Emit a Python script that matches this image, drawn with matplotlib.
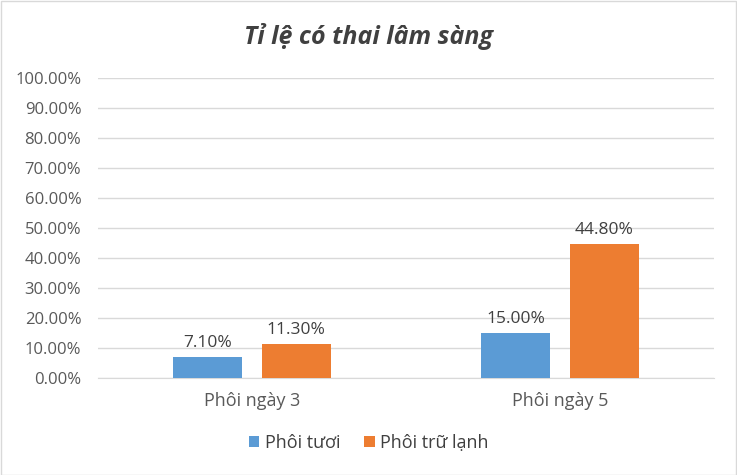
import matplotlib
matplotlib.use("Agg")
import matplotlib.pyplot as plt
import numpy as np

categories = ["Phôi ngày 3", "Phôi ngày 5"]
fresh = [7.10, 15.00]
frozen = [11.30, 44.80]
series_names = ["Phôi tươi", "Phôi trữ lạnh"]
yticks = np.arange(0, 101, 10)

plt.rcParams['font.family'] = ['Open Sans', 'DejaVu Sans']

fig = plt.figure(figsize=(7.37, 4.75), dpi=100)
ax = fig.add_axes([98 / 737, 1 - 378 / 475, 616 / 737, 300 / 475])

x = np.arange(len(categories))
w = 0.224
off = 0.143
b1 = ax.bar(x - off, fresh, w, color="#5B9BD5", label=series_names[0], zorder=3)
b2 = ax.bar(x + off, frozen, w, color="#ED7D31", label=series_names[1], zorder=3)

# value labels above bars
for bars, vals in ((b1, fresh), (b2, frozen)):
    for b, v in zip(bars, vals):
        ax.text(b.get_x() + b.get_width() / 2, v + 2.0, f"{v:.2f}%",
                ha="center", va="bottom", fontsize=12.5, color="#404040")

ax.set_xlim(-0.5, 1.5)
ax.set_ylim(0, 100)
ax.set_yticks(yticks)
ax.set_yticklabels([f"{t:.2f}%" for t in yticks])
ax.set_xticks(x)
ax.set_xticklabels(categories)
ax.tick_params(axis="both", length=0, colors="#595959")
ax.tick_params(axis="y", labelsize=12, pad=12)
ax.tick_params(axis="x", labelsize=13, pad=10)
ax.grid(axis="y", color="#D9D9D9", linewidth=1, zorder=0)
for s in ("top", "right", "left"):
    ax.spines[s].set_visible(False)
ax.spines["bottom"].set_color("#D9D9D9")

fig.text(0.5, 1 - 37 / 475, "Tỉ lệ có thai lâm sàng", ha="center", va="center",
         fontsize=18, fontweight="bold", fontstyle="italic", color="#404040")

leg = fig.legend(loc="center", bbox_to_anchor=(0.5, 1 - 443 / 475), ncol=2,
                 frameon=False, fontsize=13, handlelength=0.6, handleheight=0.6,
                 handletextpad=0.3, columnspacing=1.3)
for t in leg.get_texts():
    t.set_color("#404040")

fig.patches.append(plt.Rectangle((0.001, 0.001), 0.998, 0.997, transform=fig.transFigure,
                                 fill=False, edgecolor="#D9D9D9", linewidth=1))

fig.savefig("out.png", dpi=100)
